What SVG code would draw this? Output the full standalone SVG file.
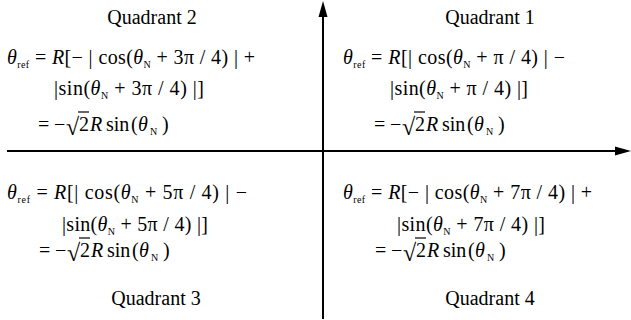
<svg xmlns="http://www.w3.org/2000/svg" width="631" height="320" viewBox="0 0 631 320">
<style>
text{font-family:"Liberation Serif","Times New Roman",serif;font-size:20px;fill:#000}
.lbl{text-anchor:middle}
.it{font-style:italic}
.sub{font-size:10px}
.rad{font-size:24px}
.ax{stroke:#000;stroke-width:2;fill:none}
.bar{stroke:#000;stroke-width:1.2}
</style>
<defs>
<g id="res">
<text x="0" y="0">=</text>
<text x="16" y="0">−</text>
<text x="28" y="4" class="rad">√</text>
<line class="bar" x1="40" y1="-19" x2="51" y2="-19"/>
<text x="41" y="0">2</text>
<text x="52" y="0" class="it">R</text>
<text x="68" y="0">sin</text>
<text x="93" y="0">(</text>
<text x="100" y="0" class="it">θ</text>
<text x="112" y="4" class="sub">N</text>
<text x="124" y="0">)</text>
</g>
</defs>
<g id="connectors">
<line class="ax" x1="7" y1="151" x2="617" y2="151"/>
<polygon points="631,151 615,146.5 615,155.5" fill="#000"/>
<line class="ax" x1="323" y1="319" x2="323" y2="15"/>
<polygon points="323,1 318.5,17 327.5,17" fill="#000"/>
</g>
<g id="quadrant2">
<text class="lbl" x="152" y="24">Quadrant 2</text>
<text x="7" y="64" textLength="248" lengthAdjust="spacing"><tspan class="it">θ</tspan><tspan class="sub" dy="4">ref</tspan><tspan dy="-4"> = </tspan><tspan class="it">R</tspan>[− | cos(<tspan class="it">θ</tspan><tspan class="sub" dy="4">N</tspan><tspan dy="-4"> + 3π / 4) | +</tspan></text>
<text x="54" y="95" textLength="150" lengthAdjust="spacing">|sin(<tspan class="it">θ</tspan><tspan class="sub" dy="4">N</tspan><tspan dy="-4"> + 3π / 4) |]</tspan></text>
<use href="#res" x="38" y="131"/>
</g>
<g id="quadrant1">
<text class="lbl" x="490" y="24">Quadrant 1</text>
<text x="343" y="64" textLength="222" lengthAdjust="spacing"><tspan class="it">θ</tspan><tspan class="sub" dy="4">ref</tspan><tspan dy="-4"> = </tspan><tspan class="it">R</tspan>[| cos(<tspan class="it">θ</tspan><tspan class="sub" dy="4">N</tspan><tspan dy="-4"> + π / 4) | −</tspan></text>
<text x="390" y="95" textLength="138" lengthAdjust="spacing">|sin(<tspan class="it">θ</tspan><tspan class="sub" dy="4">N</tspan><tspan dy="-4"> + π / 4) |]</tspan></text>
<use href="#res" x="374" y="131"/>
</g>
<g id="quadrant3">
<text x="7" y="199" textLength="240" lengthAdjust="spacing"><tspan class="it">θ</tspan><tspan class="sub" dy="4">ref</tspan><tspan dy="-4"> = </tspan><tspan class="it">R</tspan>[| cos(<tspan class="it">θ</tspan><tspan class="sub" dy="4">N</tspan><tspan dy="-4"> + 5π / 4) | −</tspan></text>
<text x="62" y="231" textLength="146" lengthAdjust="spacing">|sin(<tspan class="it">θ</tspan><tspan class="sub" dy="4">N</tspan><tspan dy="-4"> + 5π / 4) |]</tspan></text>
<use href="#res" x="39" y="257"/>
<text class="lbl" x="156" y="305">Quadrant 3</text>
</g>
<g id="quadrant4">
<text x="343" y="199" textLength="249" lengthAdjust="spacing"><tspan class="it">θ</tspan><tspan class="sub" dy="4">ref</tspan><tspan dy="-4"> = </tspan><tspan class="it">R</tspan>[− | cos(<tspan class="it">θ</tspan><tspan class="sub" dy="4">N</tspan><tspan dy="-4"> + 7π / 4) | +</tspan></text>
<text x="397" y="231" textLength="148" lengthAdjust="spacing">|sin(<tspan class="it">θ</tspan><tspan class="sub" dy="4">N</tspan><tspan dy="-4"> + 7π / 4) |]</tspan></text>
<use href="#res" x="375" y="257"/>
<text class="lbl" x="490" y="305">Quadrant 4</text>
</g>
</svg>
